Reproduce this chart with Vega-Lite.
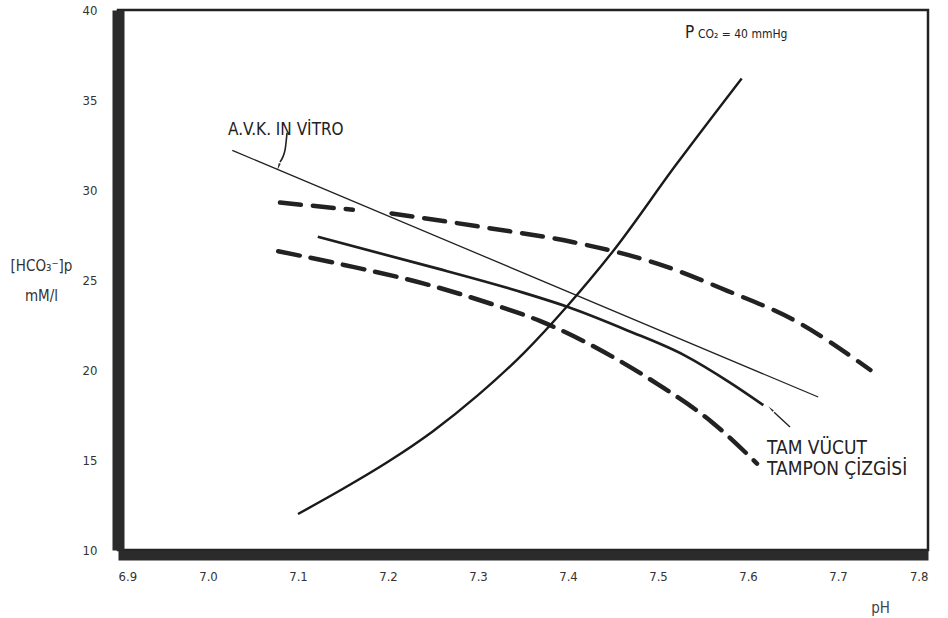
{
  "$schema": "https://vega.github.io/schema/vega-lite/v6.json",
  "width": 810,
  "height": 540,
  "autosize": {"type": "none"},
  "padding": {"left": 118, "top": 10, "right": 20, "bottom": 68},
  "background": "#ffffff",
  "config": {
    "view": {"stroke": "#222222", "strokeWidth": 2.5},
    "font": "DejaVu Sans Condensed"
  },
  "datasets": {
    "isobar": [
      {"ph": 7.100, "hco3": 12.0},
      {"ph": 7.150, "hco3": 13.4},
      {"ph": 7.200, "hco3": 14.9},
      {"ph": 7.250, "hco3": 16.6},
      {"ph": 7.300, "hco3": 18.6},
      {"ph": 7.350, "hco3": 20.9},
      {"ph": 7.400, "hco3": 23.6},
      {"ph": 7.450, "hco3": 26.6},
      {"ph": 7.520, "hco3": 31.4},
      {"ph": 7.593, "hco3": 36.2}
    ],
    "inVitro": [
      {"ph": 7.027, "hco3": 32.2},
      {"ph": 7.678, "hco3": 18.5}
    ],
    "wholeBody": [
      {"ph": 7.122, "hco3": 27.4},
      {"ph": 7.250, "hco3": 25.7},
      {"ph": 7.350, "hco3": 24.3},
      {"ph": 7.400, "hco3": 23.5},
      {"ph": 7.466, "hco3": 22.2},
      {"ph": 7.530, "hco3": 20.8},
      {"ph": 7.580, "hco3": 19.3},
      {"ph": 7.617, "hco3": 18.05}
    ],
    "upperA": [
      {"ph": 7.080, "hco3": 29.3},
      {"ph": 7.161, "hco3": 28.9}
    ],
    "upperB": [
      {"ph": 7.204, "hco3": 28.7},
      {"ph": 7.310, "hco3": 27.9},
      {"ph": 7.406, "hco3": 27.1},
      {"ph": 7.500, "hco3": 25.9},
      {"ph": 7.577, "hco3": 24.4},
      {"ph": 7.650, "hco3": 22.8},
      {"ph": 7.736, "hco3": 20.0}
    ],
    "lower": [
      {"ph": 7.078, "hco3": 26.6},
      {"ph": 7.150, "hco3": 25.85},
      {"ph": 7.240, "hco3": 24.8},
      {"ph": 7.310, "hco3": 23.75},
      {"ph": 7.370, "hco3": 22.7},
      {"ph": 7.440, "hco3": 21.0},
      {"ph": 7.500, "hco3": 19.2},
      {"ph": 7.560, "hco3": 17.1},
      {"ph": 7.610, "hco3": 14.8}
    ],
    "avkArrow": [
      {"ph": 7.0878, "hco3": 33.17},
      {"ph": 7.0856, "hco3": 32.22},
      {"ph": 7.0800, "hco3": 31.56}
    ],
    "avkHead": [{"ph": 7.0788, "hco3": 31.35}],
    "bufferArrow": [
      {"ph": 7.6467, "hco3": 16.83},
      {"ph": 7.6290, "hco3": 17.65}
    ],
    "bufferHead": [{"ph": 7.6262, "hco3": 17.8}],
    "phTicks": [
      {"ph": 7.0}, {"ph": 7.1}, {"ph": 7.2}, {"ph": 7.3},
      {"ph": 7.4}, {"ph": 7.5}, {"ph": 7.6}, {"ph": 7.7}
    ],
    "hco3Ticks": [
      {"hco3": 15}, {"hco3": 20}, {"hco3": 25}, {"hco3": 30}, {"hco3": 35}
    ]
  },
  "encoding": {
    "x": {
      "field": "ph",
      "type": "quantitative",
      "scale": {"domain": [6.9, 7.8], "nice": false, "zero": false},
      "axis": {
        "title": "pH",
        "values": [6.9, 7.0, 7.1, 7.2, 7.3, 7.4, 7.5, 7.6, 7.7, 7.8],
        "format": ".1f",
        "grid": false,
        "offset": 5,
        "domainColor": "#2b2b2b",
        "domainWidth": 10,
        "ticks": false,
        "labelPadding": 15,
        "labelFontSize": 13,
        "labelColor": "#333333",
        "labelFont": "DejaVu Sans Condensed",
        "titleFont": "DejaVu Sans Condensed",
        "titleFontSize": 15,
        "titleFontWeight": "normal",
        "titleColor": "#444444",
        "titleAlign": "center",
        "titleBaseline": "alphabetic",
        "titleAnchor": "start",
        "titleX": 762,
        "titleY": 57
      }
    },
    "y": {
      "field": "hco3",
      "type": "quantitative",
      "scale": {"domain": [10, 40], "nice": false, "zero": false},
      "axis": {
        "title": ["[HCO₃⁻]p", "mM/l"],
        "values": [10, 15, 20, 25, 30, 35, 40],
        "format": "d",
        "grid": false,
        "domainColor": "#2b2b2b",
        "domainWidth": 12,
        "ticks": false,
        "labelPadding": 21,
        "labelFontSize": 13,
        "labelColor": "#333333",
        "labelFont": "DejaVu Sans Condensed",
        "titleFont": "DejaVu Sans Condensed",
        "titleFontSize": 15,
        "titleFontWeight": "normal",
        "titleColor": "#333333",
        "titleAngle": 0,
        "titleAlign": "center",
        "titleBaseline": "alphabetic",
        "titleAnchor": "start",
        "titleLineHeight": 30,
        "titleX": -77,
        "titleY": 260
      }
    }
  },
  "layer": [
    {
      "data": {"name": "inVitro"},
      "mark": {"type": "line", "color": "#222222", "strokeWidth": 1.3}
    },
    {
      "data": {"name": "wholeBody"},
      "mark": {"type": "line", "color": "#1e1e1e", "strokeWidth": 2.7, "interpolate": "monotone"}
    },
    {
      "data": {"name": "upperA"},
      "mark": {"type": "line", "color": "#222222", "strokeWidth": 4.5, "strokeCap": "round", "strokeDash": [21, 12], "interpolate": "monotone"}
    },
    {
      "data": {"name": "upperB"},
      "mark": {"type": "line", "color": "#222222", "strokeWidth": 4.5, "strokeCap": "round", "strokeDash": [21, 12], "interpolate": "monotone"}
    },
    {
      "data": {"name": "lower"},
      "mark": {"type": "line", "color": "#222222", "strokeWidth": 4.5, "strokeCap": "round", "strokeDash": [22, 11], "interpolate": "monotone"}
    },
    {
      "data": {"name": "isobar"},
      "mark": {"type": "line", "color": "#1a1a1a", "strokeWidth": 2.4, "interpolate": "monotone"}
    },
    {
      "data": {"name": "avkArrow"},
      "mark": {"type": "line", "color": "#222222", "strokeWidth": 1.6, "interpolate": "monotone"}
    },
    {
      "data": {"name": "avkHead"},
      "mark": {"type": "point", "shape": "wedge", "filled": true, "color": "#222222", "size": 70, "angle": 200, "opacity": 1}
    },
    {
      "data": {"name": "bufferArrow"},
      "mark": {"type": "line", "color": "#222222", "strokeWidth": 1.4}
    },
    {
      "data": {"name": "bufferHead"},
      "mark": {"type": "point", "shape": "wedge", "filled": true, "color": "#222222", "size": 60, "angle": 314, "opacity": 1}
    },
    {
      "data": {"values": [{"ph": 7.0222, "hco3": 33.06, "label": "A.V.K. IN VİTRO"}]},
      "mark": {"type": "text", "align": "left", "baseline": "alphabetic", "fontSize": 17, "color": "#222222", "font": "DejaVu Sans Condensed"},
      "encoding": {"text": {"field": "label"}}
    },
    {
      "data": {"values": [
        {"ph": 7.6211, "hco3": 15.33, "label": "TAM VÜCUT"},
        {"ph": 7.6211, "hco3": 14.17, "label": "TAMPON ÇİZGİSİ"}
      ]},
      "mark": {"type": "text", "align": "left", "baseline": "alphabetic", "fontSize": 19, "color": "#222222", "font": "DejaVu Sans Condensed"},
      "encoding": {"text": {"field": "label"}}
    },
    {
      "data": {"values": [{"ph": 7.530, "hco3": 38.44, "label": "P"}]},
      "mark": {"type": "text", "align": "left", "baseline": "alphabetic", "fontSize": 17, "color": "#222222", "font": "DejaVu Sans Condensed"},
      "encoding": {"text": {"field": "label"}}
    },
    {
      "data": {"values": [{"ph": 7.5444, "hco3": 38.44, "label": "CO₂ = 40 mmHg"}]},
      "mark": {"type": "text", "align": "left", "baseline": "alphabetic", "fontSize": 12, "color": "#222222", "font": "DejaVu Sans Condensed"},
      "encoding": {"text": {"field": "label"}}
    },
    {
      "data": {"name": "phTicks"},
      "mark": {"type": "rule", "color": "#1a1a1a", "strokeWidth": 2.5},
      "encoding": {
        "x": {"field": "ph", "type": "quantitative"},
        "y": {"datum": 10},
        "y2": {"datum": 10.7}
      }
    },
    {
      "data": {"name": "hco3Ticks"},
      "mark": {"type": "rule", "color": "#1a1a1a", "strokeWidth": 2.5},
      "encoding": {
        "y": {"field": "hco3", "type": "quantitative"},
        "x": {"datum": 6.9},
        "x2": {"datum": 6.9165}
      }
    }
  ]
}
